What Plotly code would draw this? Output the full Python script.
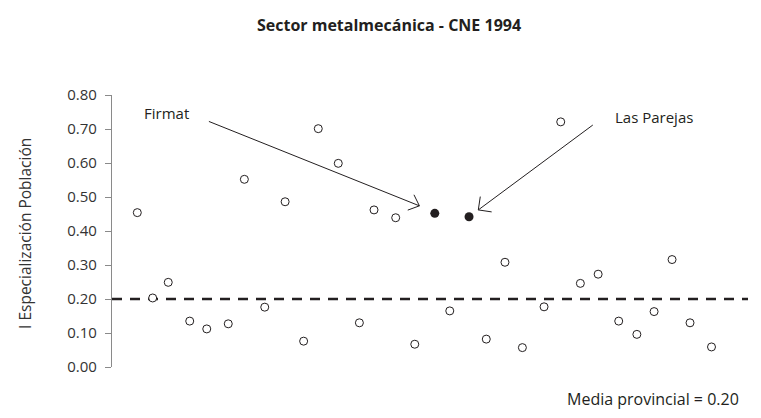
import math
import plotly.graph_objects as go

# ---- data ----
posicion = [1.0, 1.83, 2.67, 3.83, 4.75, 5.91, 6.78, 7.88, 8.98, 9.98, 10.77, 11.85,
            12.99, 13.78, 14.95, 15.98, 17.06, 17.87, 18.91, 19.84, 20.85, 21.79,
            22.96, 23.86, 24.92, 25.88, 26.99, 27.97, 28.90, 29.87, 30.84, 32.0]
especializacion = [0.454, 0.203, 0.249, 0.135, 0.112, 0.127, 0.552, 0.176, 0.486, 0.076,
                   0.701, 0.599, 0.130, 0.462, 0.439, 0.067, 0.452, 0.165, 0.442, 0.082,
                   0.308, 0.057, 0.177, 0.721, 0.246, 0.273, 0.135, 0.096, 0.163, 0.316,
                   0.130, 0.059]
destacadas = {"Firmat": 16, "Las Parejas": 18}   # indices of highlighted localities
media_provincial = 0.20
y_ticks = [0.0, 0.1, 0.2, 0.3, 0.4, 0.5, 0.6, 0.7, 0.8]
titulo = "Sector metalmecánica - CNE 1994"
y_titulo = "I Especialización Población"
nota_media = "Media provincial = 0.20"

FONT = "Open Sans"
INK = "#231f20"
GREY_TXT = "#333333"

hi = set(destacadas.values())
x_open = [x for i, x in enumerate(posicion) if i not in hi]
y_open = [y for i, y in enumerate(especializacion) if i not in hi]
x_fill = [posicion[i] for i in sorted(hi)]
y_fill = [especializacion[i] for i in sorted(hi)]

fig = go.Figure()
fig.add_trace(go.Scatter(x=x_open, y=y_open, mode="markers",
                         marker=dict(symbol="circle", size=8, color="white",
                                     line=dict(color=INK, width=1)),
                         showlegend=False, hoverinfo="skip"))
fig.add_trace(go.Scatter(x=x_fill, y=y_fill, mode="markers",
                         marker=dict(symbol="circle", size=9, color=INK,
                                     line=dict(color=INK, width=0)),
                         showlegend=False, hoverinfo="skip"))

fig.add_shape(type="line", xref="paper", x0=0, x1=1, yref="y",
              y0=media_provincial, y1=media_provincial,
              line=dict(color=INK, width=2.5, dash="10px,8px"), layer="below")

annotations = []

def arrow(tip_x, tip_y, ax, ay, wing=15, ang=42):
    annotations.append(dict(x=tip_x, y=tip_y, xref="x", yref="y", ax=ax, ay=ay,
                            text="", showarrow=True, arrowhead=0,
                            arrowwidth=1, arrowcolor=INK, standoff=0, startstandoff=0))
    L = math.hypot(ax, ay)
    ux, uy = ax / L, ay / L
    for s in (-1, 1):
        a = math.radians(s * ang)
        wx = ux * math.cos(a) - uy * math.sin(a)
        wy = ux * math.sin(a) + uy * math.cos(a)
        annotations.append(dict(x=tip_x, y=tip_y, xref="x", yref="y",
                                ax=wx * wing, ay=wy * wing, text="",
                                showarrow=True, arrowhead=0, arrowwidth=1,
                                arrowcolor=INK, standoff=0, startstandoff=0))

# Firmat
annotations.append(dict(x=2.55, y=0.747, xref="x", yref="y", text="Firmat",
                        showarrow=False, font=dict(family=FONT, size=15, color=INK)))
arrow(16.23, 0.474, -212, -85, wing=14, ang=42)
# Las Parejas
annotations.append(dict(x=28.9, y=0.735, xref="x", yref="y", text="Las Parejas",
                        showarrow=False, font=dict(family=FONT, size=15, color=INK)))
arrow(19.41, 0.462, 116, -86, wing=15, ang=45)

# axis title
annotations.append(dict(x=-0.138, y=0.49, xref="paper", yref="paper", text=y_titulo,
                        textangle=-90, showarrow=False, xanchor="center", yanchor="middle",
                        font=dict(family=FONT, size=15.5, color=GREY_TXT)))
# media note
annotations.append(dict(x=0.851, y=-0.118, xref="paper", yref="paper", text=nota_media,
                        showarrow=False, xanchor="center", yanchor="middle",
                        font=dict(family=FONT, size=16, color=INK)))

fig.update_layout(
    width=753, height=410,
    margin=dict(l=104, r=13, t=87, b=51),
    paper_bgcolor="white", plot_bgcolor="white",
    title=dict(text="<b>" + titulo + "</b>", x=0.506, xanchor="center",
               y=0.9585, yanchor="middle",
               font=dict(family=FONT, size=16, color=INK)),
    xaxis=dict(visible=False, range=[-0.366, 33.97]),
    yaxis=dict(range=[0, 0.8], tickvals=y_ticks, tickformat=".2f",
               showline=True, linecolor="#8a8a8a", linewidth=1.3,
               ticks="outside", ticklen=6, tickwidth=1.3, tickcolor="#8a8a8a",
               ticklabelstandoff=5,
               showgrid=False, zeroline=False,
               tickfont=dict(family=FONT, size=15, color=GREY_TXT)),
    annotations=annotations,
    showlegend=False,
)

fig.write_html("out.html")
